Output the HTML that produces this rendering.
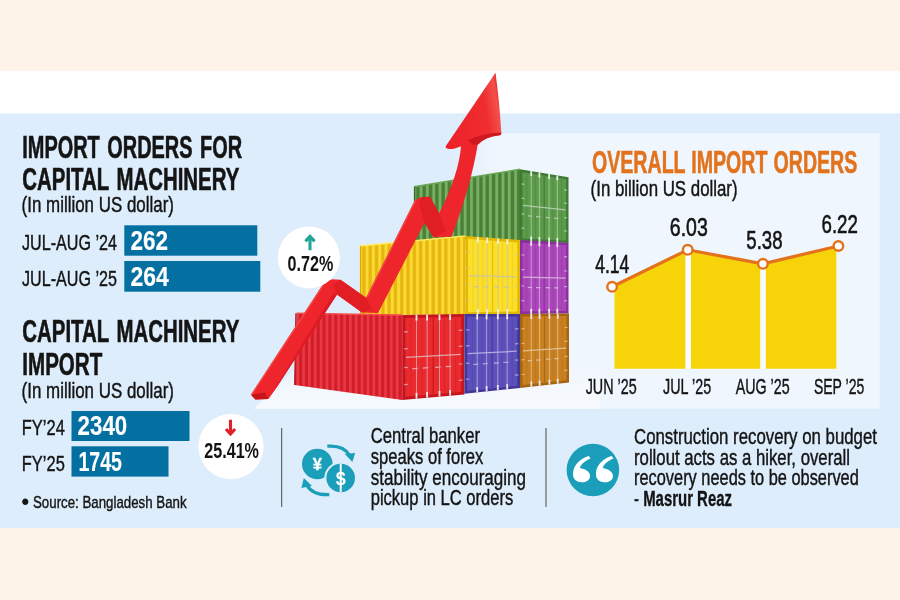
<!DOCTYPE html>
<html lang="en"><head><meta charset="utf-8"><title>Import orders</title>
<style>html,body{margin:0;padding:0;background:#fef3e8;}svg{display:block}</style></head>
<body><svg width="900" height="600" viewBox="0 0 900 600" font-family="Liberation Sans, sans-serif">
<rect x="0" y="0" width="900" height="600" fill="#fef3e8"/>
<rect x="0" y="71" width="900" height="43" fill="#ffffff"/>
<rect x="0" y="113.4" width="900" height="414.6" fill="#deedfb"/>
<defs><linearGradient id="fadeL" gradientUnits="userSpaceOnUse" x1="445" y1="0" x2="500" y2="0"><stop offset="0" stop-color="#f0f6fd" stop-opacity="0"/><stop offset="1" stop-color="#f0f6fd" stop-opacity="1"/></linearGradient><linearGradient id="floorV" gradientUnits="userSpaceOnUse" x1="0" y1="364" x2="0" y2="409"><stop offset="0" stop-color="#f5f9fe" stop-opacity="0"/><stop offset="0.55" stop-color="#f5f9fe" stop-opacity="0.9"/><stop offset="1" stop-color="#f6fafe" stop-opacity="1"/></linearGradient></defs>
<rect x="445" y="133.3" width="434.7" height="275.4" fill="url(#fadeL)"/>
<polygon points="254,408.7 600,408.7 600,364 300,364" fill="url(#floorV)"/>
<defs>
<linearGradient id="gS" gradientUnits="userSpaceOnUse" x1="414" y1="0" x2="420.3" y2="0" spreadMethod="repeat"><stop offset="0" stop-color="#78b065"/><stop offset="0.25" stop-color="#78b065"/><stop offset="0.45" stop-color="#4a7f36"/><stop offset="0.8" stop-color="#4a7f36"/><stop offset="1" stop-color="#78b065"/></linearGradient>
<linearGradient id="yS" gradientUnits="userSpaceOnUse" x1="360" y1="0" x2="366.3" y2="0" spreadMethod="repeat"><stop offset="0" stop-color="#fdd936"/><stop offset="0.25" stop-color="#fdd936"/><stop offset="0.45" stop-color="#e6b80f"/><stop offset="0.8" stop-color="#e6b80f"/><stop offset="1" stop-color="#fdd936"/></linearGradient>
<linearGradient id="rS" gradientUnits="userSpaceOnUse" x1="297" y1="0" x2="302.85" y2="0" spreadMethod="repeat"><stop offset="0" stop-color="#e93a44"/><stop offset="0.25" stop-color="#e93a44"/><stop offset="0.45" stop-color="#d21d2a"/><stop offset="0.8" stop-color="#d21d2a"/><stop offset="1" stop-color="#e93a44"/></linearGradient>
<linearGradient id="ah" gradientUnits="userSpaceOnUse" x1="450" y1="120" x2="502" y2="112"><stop offset="0" stop-color="#ee2329"/><stop offset="0.7" stop-color="#ef2d30"/><stop offset="0.93" stop-color="#f4504a"/><stop offset="1" stop-color="#e52228"/></linearGradient>
</defs>
<polygon points="414.0,186.7 520.0,169.3 520.0,241.0 414.0,241.0" fill="url(#gS)"/>
<path d="M414.0 186.7 L520.0 169.3" stroke="#6aa856" stroke-width="1.6" opacity="1"/>
<path d="M414.6 186.7 L414.6 241.0" stroke="#33682a" stroke-width="1.4" opacity="1"/>
<polygon points="520.0,169.3 568.5,177.3 568.5,243.0 520.0,241.0" fill="#3f7a35"/>
<polygon points="522.4,172.2 566.1,179.2 566.1,240.6 522.4,238.6" fill="#5b9b49"/>
<path d="M526.8 174.0 L526.8 237.7" stroke="#3f7a35" stroke-width="1.0" opacity="0.35"/>
<path d="M535.5 175.3 L535.5 238.2" stroke="#3f7a35" stroke-width="1.0" opacity="0.35"/>
<path d="M544.2 176.7 L544.2 238.6" stroke="#3f7a35" stroke-width="1.0" opacity="0.35"/>
<path d="M553.0 178.1 L553.0 239.0" stroke="#3f7a35" stroke-width="1.0" opacity="0.35"/>
<path d="M561.7 179.5 L561.7 239.4" stroke="#3f7a35" stroke-width="1.0" opacity="0.35"/>
<path d="M544.2 176.0 L544.2 239.3" stroke="#3f7a35" stroke-width="1.1" opacity="0.8"/>
<path d="M531.2 173.2 L531.2 239.4" stroke="#b9cfb4" stroke-width="1.0" opacity="0.75"/>
<path d="M531.2 171.1 L531.2 176.1" stroke="#f2f2f2" stroke-width="1.8" opacity="0.95"/>
<path d="M531.2 236.5 L531.2 241.5" stroke="#f2f2f2" stroke-width="1.8" opacity="0.95"/>
<path d="M527.8 215.9 L532.1 216.2" stroke="#b9cfb4" stroke-width="1.2" opacity="0.9"/>
<path d="M539.4 174.6 L539.4 239.7" stroke="#b9cfb4" stroke-width="1.0" opacity="0.75"/>
<path d="M539.4 172.5 L539.4 177.4" stroke="#f2f2f2" stroke-width="1.8" opacity="0.95"/>
<path d="M539.4 236.9 L539.4 241.8" stroke="#f2f2f2" stroke-width="1.8" opacity="0.95"/>
<path d="M536.0 216.6 L540.4 216.9" stroke="#b9cfb4" stroke-width="1.2" opacity="0.9"/>
<path d="M549.1 176.1 L549.1 240.2" stroke="#b9cfb4" stroke-width="1.0" opacity="0.75"/>
<path d="M549.1 174.1 L549.1 178.9" stroke="#f2f2f2" stroke-width="1.8" opacity="0.95"/>
<path d="M549.1 237.4 L549.1 242.2" stroke="#f2f2f2" stroke-width="1.8" opacity="0.95"/>
<path d="M545.7 217.4 L550.1 217.8" stroke="#b9cfb4" stroke-width="1.2" opacity="0.9"/>
<path d="M557.3 177.5 L557.3 240.5" stroke="#b9cfb4" stroke-width="1.0" opacity="0.75"/>
<path d="M557.3 175.5 L557.3 180.2" stroke="#f2f2f2" stroke-width="1.8" opacity="0.95"/>
<path d="M557.3 237.8 L557.3 242.5" stroke="#f2f2f2" stroke-width="1.8" opacity="0.95"/>
<path d="M554.0 218.1 L558.3 218.5" stroke="#b9cfb4" stroke-width="1.2" opacity="0.9"/>
<path d="M522.9 205.4 L565.6 209.9" stroke="#b9cfb4" stroke-width="1.3" opacity="0.9"/>
<path d="M521.5 183.8 L524.4 184.3" stroke="#b9cfb4" stroke-width="1.2" opacity="0.8"/>
<path d="M564.1 189.8 L567.0 190.2" stroke="#b9cfb4" stroke-width="1.2" opacity="0.8"/>
<path d="M521.5 198.1 L524.4 198.5" stroke="#b9cfb4" stroke-width="1.2" opacity="0.8"/>
<path d="M564.1 203.1 L567.0 203.4" stroke="#b9cfb4" stroke-width="1.2" opacity="0.8"/>
<path d="M521.5 213.9 L524.4 214.1" stroke="#b9cfb4" stroke-width="1.2" opacity="0.8"/>
<path d="M564.1 217.6 L567.0 217.9" stroke="#b9cfb4" stroke-width="1.2" opacity="0.8"/>
<path d="M521.5 228.2 L524.4 228.4" stroke="#b9cfb4" stroke-width="1.2" opacity="0.8"/>
<path d="M564.1 230.9 L567.0 231.1" stroke="#b9cfb4" stroke-width="1.2" opacity="0.8"/>
<polygon points="360.0,246.0 465.3,236.0 465.3,315.0 360.0,314.5" fill="url(#yS)"/>
<path d="M360.0 246.0 L465.3 236.0" stroke="#ffe95c" stroke-width="1.6" opacity="1"/>
<path d="M360.6 246.0 L360.6 314.5" stroke="#d9ad00" stroke-width="1.4" opacity="1"/>
<polygon points="465.3,236.0 520.0,240.0 520.0,314.0 465.3,315.0" fill="#e3b800"/>
<polygon points="468.0,239.0 517.3,242.4 517.3,311.5 468.0,312.2" fill="#fbdf2a"/>
<path d="M473.0 240.5 L473.0 310.9" stroke="#e3b800" stroke-width="1.0" opacity="0.35"/>
<path d="M482.8 241.2 L482.8 310.8" stroke="#e3b800" stroke-width="1.0" opacity="0.35"/>
<path d="M492.6 241.8 L492.6 310.7" stroke="#e3b800" stroke-width="1.0" opacity="0.35"/>
<path d="M502.5 242.5 L502.5 310.5" stroke="#e3b800" stroke-width="1.0" opacity="0.35"/>
<path d="M512.3 243.2 L512.3 310.4" stroke="#e3b800" stroke-width="1.0" opacity="0.35"/>
<path d="M492.6 241.1 L492.6 311.4" stroke="#e3b800" stroke-width="1.1" opacity="0.8"/>
<path d="M477.9 239.3 L477.9 312.4" stroke="#c9c4a2" stroke-width="1.0" opacity="0.75"/>
<path d="M477.9 236.9 L477.9 242.4" stroke="#f2f2f2" stroke-width="1.8" opacity="0.95"/>
<path d="M477.9 309.3 L477.9 314.8" stroke="#f2f2f2" stroke-width="1.8" opacity="0.95"/>
<path d="M474.1 286.7 L479.0 286.8" stroke="#c9c4a2" stroke-width="1.2" opacity="0.9"/>
<path d="M487.2 239.9 L487.2 312.3" stroke="#c9c4a2" stroke-width="1.0" opacity="0.75"/>
<path d="M487.2 237.6 L487.2 243.0" stroke="#f2f2f2" stroke-width="1.8" opacity="0.95"/>
<path d="M487.2 309.2 L487.2 314.6" stroke="#f2f2f2" stroke-width="1.8" opacity="0.95"/>
<path d="M483.4 286.8 L488.3 286.9" stroke="#c9c4a2" stroke-width="1.2" opacity="0.9"/>
<path d="M498.1 240.7 L498.1 312.1" stroke="#c9c4a2" stroke-width="1.0" opacity="0.75"/>
<path d="M498.1 238.4 L498.1 243.7" stroke="#f2f2f2" stroke-width="1.8" opacity="0.95"/>
<path d="M498.1 309.1 L498.1 314.4" stroke="#f2f2f2" stroke-width="1.8" opacity="0.95"/>
<path d="M494.3 287.0 L499.2 287.1" stroke="#c9c4a2" stroke-width="1.2" opacity="0.9"/>
<path d="M507.4 241.3 L507.4 312.0" stroke="#c9c4a2" stroke-width="1.0" opacity="0.75"/>
<path d="M507.4 239.1 L507.4 244.3" stroke="#f2f2f2" stroke-width="1.8" opacity="0.95"/>
<path d="M507.4 309.0 L507.4 314.2" stroke="#f2f2f2" stroke-width="1.8" opacity="0.95"/>
<path d="M503.6 287.1 L508.5 287.2" stroke="#c9c4a2" stroke-width="1.2" opacity="0.9"/>
<path d="M468.6 275.6 L516.7 276.9" stroke="#c9c4a2" stroke-width="1.3" opacity="0.9"/>
<path d="M466.9 251.9 L470.2 252.1" stroke="#c9c4a2" stroke-width="1.2" opacity="0.8"/>
<path d="M515.1 254.5 L518.4 254.7" stroke="#c9c4a2" stroke-width="1.2" opacity="0.8"/>
<path d="M466.9 267.7 L470.2 267.8" stroke="#c9c4a2" stroke-width="1.2" opacity="0.8"/>
<path d="M515.1 269.4 L518.4 269.5" stroke="#c9c4a2" stroke-width="1.2" opacity="0.8"/>
<path d="M466.9 285.0 L470.2 285.1" stroke="#c9c4a2" stroke-width="1.2" opacity="0.8"/>
<path d="M515.1 285.8 L518.4 285.9" stroke="#c9c4a2" stroke-width="1.2" opacity="0.8"/>
<path d="M466.9 300.8 L470.2 300.8" stroke="#c9c4a2" stroke-width="1.2" opacity="0.8"/>
<path d="M515.1 300.7 L518.4 300.7" stroke="#c9c4a2" stroke-width="1.2" opacity="0.8"/>
<polygon points="520.0,240.0 568.5,242.7 568.5,313.6 520.0,314.0" fill="#8a2f9b"/>
<polygon points="522.4,242.7 566.1,245.1 566.1,311.1 522.4,311.4" fill="#aa46b9"/>
<path d="M526.8 244.1 L526.8 310.3" stroke="#8a2f9b" stroke-width="1.0" opacity="0.35"/>
<path d="M535.5 244.5 L535.5 310.2" stroke="#8a2f9b" stroke-width="1.0" opacity="0.35"/>
<path d="M544.2 245.0 L544.2 310.2" stroke="#8a2f9b" stroke-width="1.0" opacity="0.35"/>
<path d="M553.0 245.4 L553.0 310.1" stroke="#8a2f9b" stroke-width="1.0" opacity="0.35"/>
<path d="M561.7 245.9 L561.7 310.1" stroke="#8a2f9b" stroke-width="1.0" opacity="0.35"/>
<path d="M544.2 244.2 L544.2 310.9" stroke="#8a2f9b" stroke-width="1.1" opacity="0.8"/>
<path d="M531.2 242.8 L531.2 311.7" stroke="#d5b9dc" stroke-width="1.0" opacity="0.75"/>
<path d="M531.2 240.6 L531.2 245.8" stroke="#f2f2f2" stroke-width="1.8" opacity="0.95"/>
<path d="M531.2 308.8 L531.2 313.9" stroke="#f2f2f2" stroke-width="1.8" opacity="0.95"/>
<path d="M527.8 287.5 L532.1 287.5" stroke="#d5b9dc" stroke-width="1.2" opacity="0.9"/>
<path d="M539.4 243.3 L539.4 311.7" stroke="#d5b9dc" stroke-width="1.0" opacity="0.75"/>
<path d="M539.4 241.1 L539.4 246.2" stroke="#f2f2f2" stroke-width="1.8" opacity="0.95"/>
<path d="M539.4 308.7 L539.4 313.8" stroke="#f2f2f2" stroke-width="1.8" opacity="0.95"/>
<path d="M536.0 287.6 L540.4 287.7" stroke="#d5b9dc" stroke-width="1.2" opacity="0.9"/>
<path d="M549.1 243.8 L549.1 311.6" stroke="#d5b9dc" stroke-width="1.0" opacity="0.75"/>
<path d="M549.1 241.6 L549.1 246.7" stroke="#f2f2f2" stroke-width="1.8" opacity="0.95"/>
<path d="M549.1 308.7 L549.1 313.8" stroke="#f2f2f2" stroke-width="1.8" opacity="0.95"/>
<path d="M545.7 287.7 L550.1 287.8" stroke="#d5b9dc" stroke-width="1.2" opacity="0.9"/>
<path d="M557.3 244.2 L557.3 311.5" stroke="#d5b9dc" stroke-width="1.0" opacity="0.75"/>
<path d="M557.3 242.1 L557.3 247.1" stroke="#f2f2f2" stroke-width="1.8" opacity="0.95"/>
<path d="M557.3 308.7 L557.3 313.7" stroke="#f2f2f2" stroke-width="1.8" opacity="0.95"/>
<path d="M554.0 287.9 L558.3 287.9" stroke="#d5b9dc" stroke-width="1.2" opacity="0.9"/>
<path d="M522.9 277.1 L565.6 278.1" stroke="#d5b9dc" stroke-width="1.3" opacity="0.9"/>
<path d="M521.5 254.9 L524.4 255.0" stroke="#d5b9dc" stroke-width="1.2" opacity="0.8"/>
<path d="M564.1 256.7 L567.0 256.8" stroke="#d5b9dc" stroke-width="1.2" opacity="0.8"/>
<path d="M521.5 269.6 L524.4 269.7" stroke="#d5b9dc" stroke-width="1.2" opacity="0.8"/>
<path d="M564.1 270.9 L567.0 271.0" stroke="#d5b9dc" stroke-width="1.2" opacity="0.8"/>
<path d="M521.5 285.9 L524.4 286.0" stroke="#d5b9dc" stroke-width="1.2" opacity="0.8"/>
<path d="M564.1 286.6 L567.0 286.6" stroke="#d5b9dc" stroke-width="1.2" opacity="0.8"/>
<path d="M521.5 300.7 L524.4 300.7" stroke="#d5b9dc" stroke-width="1.2" opacity="0.8"/>
<path d="M564.1 300.8 L567.0 300.8" stroke="#d5b9dc" stroke-width="1.2" opacity="0.8"/>
<polygon points="296.7,313.3 402.2,315.0 402.2,400.0 294.5,385.0" fill="url(#rS)"/>
<path d="M296.7 313.3 L402.2 315.0" stroke="#f5514a" stroke-width="1.6" opacity="1"/>
<path d="M296.0 313.3 L294.8 385.0" stroke="#b8161b" stroke-width="1.4" opacity="1"/>
<polygon points="402.2,315.0 464.4,314.0 464.4,394.4 402.2,400.0" fill="#c4161c"/>
<polygon points="405.3,317.9 461.3,316.9 461.3,391.9 405.3,396.8" fill="#e92a2e"/>
<path d="M410.9 319.1 L410.9 395.0" stroke="#c4161c" stroke-width="1.0" opacity="0.35"/>
<path d="M422.1 318.9 L422.1 394.0" stroke="#c4161c" stroke-width="1.0" opacity="0.35"/>
<path d="M433.3 318.6 L433.3 393.1" stroke="#c4161c" stroke-width="1.0" opacity="0.35"/>
<path d="M444.5 318.4 L444.5 392.1" stroke="#c4161c" stroke-width="1.0" opacity="0.35"/>
<path d="M455.7 318.2 L455.7 391.1" stroke="#c4161c" stroke-width="1.0" opacity="0.35"/>
<path d="M433.3 317.8 L433.3 393.9" stroke="#c4161c" stroke-width="1.1" opacity="0.8"/>
<path d="M416.5 317.3 L416.5 396.2" stroke="#e2b4b4" stroke-width="1.0" opacity="0.75"/>
<path d="M416.5 314.8 L416.5 320.6" stroke="#f2f2f2" stroke-width="1.8" opacity="0.95"/>
<path d="M416.5 392.8 L416.5 398.7" stroke="#f2f2f2" stroke-width="1.8" opacity="0.95"/>
<path d="M412.2 368.8 L417.8 368.4" stroke="#e2b4b4" stroke-width="1.2" opacity="0.9"/>
<path d="M427.1 317.1 L427.1 395.3" stroke="#e2b4b4" stroke-width="1.0" opacity="0.75"/>
<path d="M427.1 314.6 L427.1 320.4" stroke="#f2f2f2" stroke-width="1.8" opacity="0.95"/>
<path d="M427.1 391.9 L427.1 397.8" stroke="#f2f2f2" stroke-width="1.8" opacity="0.95"/>
<path d="M422.7 368.1 L428.3 367.7" stroke="#e2b4b4" stroke-width="1.2" opacity="0.9"/>
<path d="M439.5 316.9 L439.5 394.2" stroke="#e2b4b4" stroke-width="1.0" opacity="0.75"/>
<path d="M439.5 314.4 L439.5 320.2" stroke="#f2f2f2" stroke-width="1.8" opacity="0.95"/>
<path d="M439.5 390.9 L439.5 396.6" stroke="#f2f2f2" stroke-width="1.8" opacity="0.95"/>
<path d="M435.2 367.3 L440.8 367.0" stroke="#e2b4b4" stroke-width="1.2" opacity="0.9"/>
<path d="M450.1 316.7 L450.1 393.2" stroke="#e2b4b4" stroke-width="1.0" opacity="0.75"/>
<path d="M450.1 314.2 L450.1 319.9" stroke="#f2f2f2" stroke-width="1.8" opacity="0.95"/>
<path d="M450.1 390.0 L450.1 395.7" stroke="#f2f2f2" stroke-width="1.8" opacity="0.95"/>
<path d="M445.7 366.6 L451.3 366.3" stroke="#e2b4b4" stroke-width="1.2" opacity="0.9"/>
<path d="M405.9 357.3 L460.7 354.4" stroke="#e2b4b4" stroke-width="1.3" opacity="0.9"/>
<path d="M404.1 331.9 L407.8 331.8" stroke="#e2b4b4" stroke-width="1.2" opacity="0.8"/>
<path d="M458.8 330.3 L462.5 330.1" stroke="#e2b4b4" stroke-width="1.2" opacity="0.8"/>
<path d="M404.1 348.9 L407.8 348.7" stroke="#e2b4b4" stroke-width="1.2" opacity="0.8"/>
<path d="M458.8 346.4 L462.5 346.2" stroke="#e2b4b4" stroke-width="1.2" opacity="0.8"/>
<path d="M404.1 367.6 L407.8 367.4" stroke="#e2b4b4" stroke-width="1.2" opacity="0.8"/>
<path d="M458.8 364.2 L462.5 364.0" stroke="#e2b4b4" stroke-width="1.2" opacity="0.8"/>
<path d="M404.1 384.6 L407.8 384.3" stroke="#e2b4b4" stroke-width="1.2" opacity="0.8"/>
<path d="M458.8 380.4 L462.5 380.1" stroke="#e2b4b4" stroke-width="1.2" opacity="0.8"/>
<polygon points="464.4,314.0 520.0,314.0 520.0,388.0 464.4,393.8" fill="#43389a"/>
<polygon points="467.2,316.8 517.2,316.6 517.2,385.7 467.2,390.7" fill="#5d50ba"/>
<path d="M472.2 317.9 L472.2 389.0" stroke="#43389a" stroke-width="1.0" opacity="0.35"/>
<path d="M482.2 317.9 L482.2 388.0" stroke="#43389a" stroke-width="1.0" opacity="0.35"/>
<path d="M492.2 317.8 L492.2 387.1" stroke="#43389a" stroke-width="1.0" opacity="0.35"/>
<path d="M502.2 317.8 L502.2 386.1" stroke="#43389a" stroke-width="1.0" opacity="0.35"/>
<path d="M512.2 317.7 L512.2 385.1" stroke="#43389a" stroke-width="1.0" opacity="0.35"/>
<path d="M492.2 317.1 L492.2 387.8" stroke="#43389a" stroke-width="1.1" opacity="0.8"/>
<path d="M477.2 316.4 L477.2 390.1" stroke="#bcb6e2" stroke-width="1.0" opacity="0.75"/>
<path d="M477.2 314.0 L477.2 319.5" stroke="#f2f2f2" stroke-width="1.8" opacity="0.95"/>
<path d="M477.2 387.0 L477.2 392.5" stroke="#f2f2f2" stroke-width="1.8" opacity="0.95"/>
<path d="M473.3 364.5 L478.3 364.1" stroke="#bcb6e2" stroke-width="1.2" opacity="0.9"/>
<path d="M486.6 316.3 L486.6 389.2" stroke="#bcb6e2" stroke-width="1.0" opacity="0.75"/>
<path d="M486.6 314.0 L486.6 319.4" stroke="#f2f2f2" stroke-width="1.8" opacity="0.95"/>
<path d="M486.6 386.1 L486.6 391.5" stroke="#f2f2f2" stroke-width="1.8" opacity="0.95"/>
<path d="M482.7 363.8 L487.8 363.5" stroke="#bcb6e2" stroke-width="1.2" opacity="0.9"/>
<path d="M497.8 316.3 L497.8 388.0" stroke="#bcb6e2" stroke-width="1.0" opacity="0.75"/>
<path d="M497.8 314.0 L497.8 319.3" stroke="#f2f2f2" stroke-width="1.8" opacity="0.95"/>
<path d="M497.8 385.0 L497.8 390.3" stroke="#f2f2f2" stroke-width="1.8" opacity="0.95"/>
<path d="M493.9 363.1 L498.9 362.8" stroke="#bcb6e2" stroke-width="1.2" opacity="0.9"/>
<path d="M507.2 316.3 L507.2 387.1" stroke="#bcb6e2" stroke-width="1.0" opacity="0.75"/>
<path d="M507.2 314.0 L507.2 319.3" stroke="#f2f2f2" stroke-width="1.8" opacity="0.95"/>
<path d="M507.2 384.1 L507.2 389.3" stroke="#f2f2f2" stroke-width="1.8" opacity="0.95"/>
<path d="M503.3 362.5 L508.3 362.1" stroke="#bcb6e2" stroke-width="1.2" opacity="0.9"/>
<path d="M467.7 353.7 L516.7 351.2" stroke="#bcb6e2" stroke-width="1.3" opacity="0.9"/>
<path d="M466.1 329.9 L469.4 329.9" stroke="#bcb6e2" stroke-width="1.2" opacity="0.8"/>
<path d="M515.0 328.9 L518.3 328.8" stroke="#bcb6e2" stroke-width="1.2" opacity="0.8"/>
<path d="M466.1 345.9 L469.4 345.7" stroke="#bcb6e2" stroke-width="1.2" opacity="0.8"/>
<path d="M515.0 343.8 L518.3 343.7" stroke="#bcb6e2" stroke-width="1.2" opacity="0.8"/>
<path d="M466.1 363.4 L469.4 363.2" stroke="#bcb6e2" stroke-width="1.2" opacity="0.8"/>
<path d="M515.0 360.2 L518.3 360.0" stroke="#bcb6e2" stroke-width="1.2" opacity="0.8"/>
<path d="M466.1 379.3 L469.4 379.0" stroke="#bcb6e2" stroke-width="1.2" opacity="0.8"/>
<path d="M515.0 375.1 L518.3 374.8" stroke="#bcb6e2" stroke-width="1.2" opacity="0.8"/>
<polygon points="520.0,314.0 569.0,313.6 569.0,382.4 520.0,388.0" fill="#a5640f"/>
<polygon points="522.5,316.6 566.5,316.0 566.5,380.3 522.5,385.1" fill="#c98020"/>
<path d="M526.9 317.6 L526.9 383.6" stroke="#a5640f" stroke-width="1.0" opacity="0.35"/>
<path d="M535.7 317.5 L535.7 382.6" stroke="#a5640f" stroke-width="1.0" opacity="0.35"/>
<path d="M544.5 317.4 L544.5 381.6" stroke="#a5640f" stroke-width="1.0" opacity="0.35"/>
<path d="M553.3 317.3 L553.3 380.7" stroke="#a5640f" stroke-width="1.0" opacity="0.35"/>
<path d="M562.1 317.1 L562.1 379.7" stroke="#a5640f" stroke-width="1.0" opacity="0.35"/>
<path d="M544.5 316.7 L544.5 382.3" stroke="#a5640f" stroke-width="1.1" opacity="0.8"/>
<path d="M531.3 316.1 L531.3 384.5" stroke="#e2c8a2" stroke-width="1.0" opacity="0.75"/>
<path d="M531.3 313.9 L531.3 319.0" stroke="#f2f2f2" stroke-width="1.8" opacity="0.95"/>
<path d="M531.3 381.6 L531.3 386.7" stroke="#f2f2f2" stroke-width="1.8" opacity="0.95"/>
<path d="M527.8 360.8 L532.2 360.4" stroke="#e2c8a2" stroke-width="1.2" opacity="0.9"/>
<path d="M539.6 316.0 L539.6 383.6" stroke="#e2c8a2" stroke-width="1.0" opacity="0.75"/>
<path d="M539.6 313.8 L539.6 318.9" stroke="#f2f2f2" stroke-width="1.8" opacity="0.95"/>
<path d="M539.6 380.7 L539.6 385.8" stroke="#f2f2f2" stroke-width="1.8" opacity="0.95"/>
<path d="M536.2 360.1 L540.6 359.8" stroke="#e2c8a2" stroke-width="1.2" opacity="0.9"/>
<path d="M549.4 315.9 L549.4 382.5" stroke="#e2c8a2" stroke-width="1.0" opacity="0.75"/>
<path d="M549.4 313.8 L549.4 318.7" stroke="#f2f2f2" stroke-width="1.8" opacity="0.95"/>
<path d="M549.4 379.7 L549.4 384.6" stroke="#f2f2f2" stroke-width="1.8" opacity="0.95"/>
<path d="M546.0 359.4 L550.4 359.0" stroke="#e2c8a2" stroke-width="1.2" opacity="0.9"/>
<path d="M557.7 315.8 L557.7 381.6" stroke="#e2c8a2" stroke-width="1.0" opacity="0.75"/>
<path d="M557.7 313.7 L557.7 318.6" stroke="#f2f2f2" stroke-width="1.8" opacity="0.95"/>
<path d="M557.7 378.8 L557.7 383.7" stroke="#f2f2f2" stroke-width="1.8" opacity="0.95"/>
<path d="M554.3 358.8 L558.7 358.4" stroke="#e2c8a2" stroke-width="1.2" opacity="0.9"/>
<path d="M522.9 350.8 L566.1 348.2" stroke="#e2c8a2" stroke-width="1.3" opacity="0.9"/>
<path d="M521.5 328.8 L524.4 328.7" stroke="#e2c8a2" stroke-width="1.2" opacity="0.8"/>
<path d="M564.6 327.5 L567.5 327.4" stroke="#e2c8a2" stroke-width="1.2" opacity="0.8"/>
<path d="M521.5 343.5 L524.4 343.4" stroke="#e2c8a2" stroke-width="1.2" opacity="0.8"/>
<path d="M564.6 341.3 L567.5 341.2" stroke="#e2c8a2" stroke-width="1.2" opacity="0.8"/>
<path d="M521.5 359.8 L524.4 359.6" stroke="#e2c8a2" stroke-width="1.2" opacity="0.8"/>
<path d="M564.6 356.6 L567.5 356.4" stroke="#e2c8a2" stroke-width="1.2" opacity="0.8"/>
<path d="M521.5 374.5 L524.4 374.3" stroke="#e2c8a2" stroke-width="1.2" opacity="0.8"/>
<path d="M564.6 370.4 L567.5 370.2" stroke="#e2c8a2" stroke-width="1.2" opacity="0.8"/>
<path d="M251 394.7 L322.5 285 L327 281.2 L332.2 279.3 L340.3 279.8 L343 281.5 L366 297.8 L415 200 L421 197.3 L430 196.8 L439 213.5 Q459 174 461 146 L478 143 Q471 186 451.5 236.7 L433.5 237.3 L424.5 222.8 L378 313 L362 312.5 L337 294.6 L277.5 386 L268.3 399 L255.3 399.4 Z" fill="#ee252b"/>
<polygon points="268.3,399.0 277.5,386.0 337.0,294.6 333.5,293.2" fill="#de1b24"/>
<polygon points="340.3,279.8 343.0,281.5 366.0,297.8 372.5,309.5 362.0,312.5 337.0,294.6 333.0,284.5" fill="#e21e25"/>
<polygon points="421.0,197.3 430.0,196.8 439.0,213.5 446.0,231.0 433.5,237.3 424.5,222.8 419.0,204.0" fill="#e21e25"/>
<path d="M252.0 394.0 L323.0 285.3" stroke="#f5534f" stroke-width="1.4" opacity="0.8"/>
<path d="M366.8 297.5 L415.5 200.5" stroke="#f5534f" stroke-width="1.4" opacity="0.8"/>
<polygon points="251.0,394.7 265.0,392.6 268.3,399.0 255.3,399.4" fill="#c9141c"/>
<path d="M445.7 146.2 L495.5 72.8 Q499.2 100 501.3 132.5 Q501.8 135.5 498 135.6 Q486 136.5 478 144.5 L461 146.2 Q452 150 447.5 148.8 Q445 148 445.7 146.2 Z" fill="url(#ah)"/>
<path d="M468 140 Q485 132.8 501.3 132.5 Q501.8 135.5 498 135.6 Q486 136.5 478 144.5 L472 144.8 Z" fill="#cf1820"/>
<text x="22.3" y="157.6" font-size="30.6" font-weight="bold" fill="#141414" stroke="#141414" stroke-width="0.6" text-anchor="start" textLength="219.8" lengthAdjust="spacingAndGlyphs" word-spacing="3">IMPORT ORDERS FOR</text>
<text x="22.3" y="189.7" font-size="30.6" font-weight="bold" fill="#141414" stroke="#141414" stroke-width="0.6" text-anchor="start" textLength="217" lengthAdjust="spacingAndGlyphs" word-spacing="3">CAPITAL MACHINERY</text>
<text x="21.6" y="212.4" font-size="21.2" font-weight="normal" fill="#141414" stroke="#141414" stroke-width="0.42" text-anchor="start" textLength="152.4" lengthAdjust="spacingAndGlyphs">(In million US dollar)</text>
<text x="22" y="250.3" font-size="22.4" font-weight="normal" fill="#141414" stroke="#141414" stroke-width="0.42" text-anchor="start" textLength="95" lengthAdjust="spacingAndGlyphs">JUL-AUG ’24</text>
<text x="22" y="286" font-size="22.4" font-weight="normal" fill="#141414" stroke="#141414" stroke-width="0.42" text-anchor="start" textLength="95" lengthAdjust="spacingAndGlyphs">JUL-AUG ’25</text>
<rect x="124.3" y="225.3" width="133" height="30.4" fill="#0470a2"/>
<rect x="124.3" y="261" width="136" height="30.7" fill="#0470a2"/>
<text x="130.4" y="250.3" font-size="27.0" font-weight="bold" fill="#fff" stroke="#fff" stroke-width="0.12" text-anchor="start" textLength="37.6" lengthAdjust="spacingAndGlyphs">262</text>
<text x="130.4" y="286" font-size="27.0" font-weight="bold" fill="#fff" stroke="#fff" stroke-width="0.12" text-anchor="start" textLength="38.4" lengthAdjust="spacingAndGlyphs">264</text>
<text x="22.3" y="342.3" font-size="30.6" font-weight="bold" fill="#141414" stroke="#141414" stroke-width="0.6" text-anchor="start" textLength="217" lengthAdjust="spacingAndGlyphs" word-spacing="3">CAPITAL MACHINERY</text>
<text x="22.3" y="375.2" font-size="30.6" font-weight="bold" fill="#141414" stroke="#141414" stroke-width="0.6" text-anchor="start" textLength="80" lengthAdjust="spacingAndGlyphs">IMPORT</text>
<text x="21.6" y="397.7" font-size="21.2" font-weight="normal" fill="#141414" stroke="#141414" stroke-width="0.42" text-anchor="start" textLength="152.4" lengthAdjust="spacingAndGlyphs">(In million US dollar)</text>
<text x="21.8" y="435.4" font-size="22.4" font-weight="normal" fill="#141414" stroke="#141414" stroke-width="0.42" text-anchor="start" textLength="43" lengthAdjust="spacingAndGlyphs">FY’24</text>
<text x="21.8" y="471" font-size="22.4" font-weight="normal" fill="#141414" stroke="#141414" stroke-width="0.42" text-anchor="start" textLength="43" lengthAdjust="spacingAndGlyphs">FY’25</text>
<rect x="71.5" y="411" width="118" height="30" fill="#0470a2"/>
<rect x="71.5" y="446.3" width="97" height="30.3" fill="#0470a2"/>
<text x="77.6" y="435.4" font-size="27.0" font-weight="bold" fill="#fff" stroke="#fff" stroke-width="0.12" text-anchor="start" textLength="49.6" lengthAdjust="spacingAndGlyphs">2340</text>
<text x="78.4" y="471" font-size="27.0" font-weight="bold" fill="#fff" stroke="#fff" stroke-width="0.12" text-anchor="start" textLength="43.6" lengthAdjust="spacingAndGlyphs">1745</text>
<text x="21.3" y="509.8" font-size="23" font-weight="normal" fill="#141414" text-anchor="start">•</text>
<text x="33" y="508.2" font-size="16.8" font-weight="normal" fill="#141414" stroke="#141414" stroke-width="0.4" text-anchor="start" textLength="153.6" lengthAdjust="spacingAndGlyphs">Source: Bangladesh Bank</text>
<circle cx="308.9" cy="257.4" r="31" fill="#fff"/>
<circle cx="231" cy="446.6" r="32.6" fill="#fff"/>
<text x="287.5" y="270.8" font-size="21.6" font-weight="bold" fill="#141414" text-anchor="start" textLength="45.8" lengthAdjust="spacingAndGlyphs">0.72%</text>
<text x="204.2" y="457.8" font-size="21.8" font-weight="bold" fill="#141414" text-anchor="start" textLength="54.8" lengthAdjust="spacingAndGlyphs">25.41%</text>
<path d="M310 250.3 V238 M305.4 241.4 L310 236.4 L314.6 241.4" stroke="#22a699" stroke-width="3.1" fill="none" stroke-linejoin="miter"/>
<path d="M230.5 419.7 V432 M225.9 429 L230.5 434 L235.1 429" stroke="#e0202a" stroke-width="3.1" fill="none" stroke-linejoin="miter"/>
<path d="M281.7 428 V507 M546 428 V507" stroke="#4a4a4a" stroke-width="1"/>
<text x="370.7" y="443.2" font-size="21.8" font-weight="normal" fill="#141414" stroke="#141414" stroke-width="0.42" text-anchor="start" textLength="109.3" lengthAdjust="spacingAndGlyphs">Central banker</text>
<text x="370.7" y="463.9" font-size="21.8" font-weight="normal" fill="#141414" stroke="#141414" stroke-width="0.42" text-anchor="start" textLength="112.6" lengthAdjust="spacingAndGlyphs">speaks of forex</text>
<text x="370.7" y="484.6" font-size="21.8" font-weight="normal" fill="#141414" stroke="#141414" stroke-width="0.42" text-anchor="start" textLength="155.3" lengthAdjust="spacingAndGlyphs">stability encouraging</text>
<text x="370.7" y="505.3" font-size="21.8" font-weight="normal" fill="#141414" stroke="#141414" stroke-width="0.42" text-anchor="start" textLength="142.6" lengthAdjust="spacingAndGlyphs">pickup in LC orders</text>
<text x="634" y="443.6" font-size="21.8" font-weight="normal" fill="#141414" stroke="#141414" stroke-width="0.42" text-anchor="start" textLength="243" lengthAdjust="spacingAndGlyphs">Construction recovery on budget</text>
<text x="634" y="464.5" font-size="21.8" font-weight="normal" fill="#141414" stroke="#141414" stroke-width="0.42" text-anchor="start" textLength="216" lengthAdjust="spacingAndGlyphs">rollout acts as a hiker, overall</text>
<text x="634" y="485.4" font-size="21.8" font-weight="normal" fill="#141414" stroke="#141414" stroke-width="0.42" text-anchor="start" textLength="224.8" lengthAdjust="spacingAndGlyphs">recovery needs to be observed</text>
<text x="634" y="506" font-size="21.8" fill="#141414" stroke="#141414" stroke-width="0.3" textLength="98" lengthAdjust="spacingAndGlyphs">- <tspan font-weight="bold">Masrur Reaz</tspan></text>
<circle cx="592.9" cy="470" r="26.3" fill="#1b9eb9"/>
<text transform="translate(523.3,523.9) scale(1,0.79)" font-size="97.5" font-weight="900" font-family="Noto Serif CJK SC, Liberation Serif, serif" fill="#fff">“</text>
<circle cx="317.3" cy="464" r="15.3" fill="#1b9eb9"/>
<circle cx="340.7" cy="478" r="15.3" fill="#1b9eb9" stroke="#deedfb" stroke-width="2"/>
<text x="317.3" y="470.4" font-size="16.5" font-weight="bold" fill="#fff" stroke="#fff" stroke-width="0.3" text-anchor="middle">¥</text>
<text x="340.7" y="484.6" font-size="18" font-weight="bold" fill="#fff" text-anchor="middle">$</text>
<path d="M340.7 464 V492" stroke="#fff" stroke-width="2"/>
<path d="M327.3 446.2 Q344 445 349.6 455.5" stroke="#1b9eb9" stroke-width="3.3" fill="none"/><polygon points="344.6,453.8 355.2,453 352.4,462" fill="#1b9eb9"/>
<path d="M329.3 494.6 Q312 495.4 306.6 484.5" stroke="#1b9eb9" stroke-width="3.3" fill="none"/><polygon points="301.4,488 312,486 303.8,478" fill="#1b9eb9"/>
<text x="592" y="173.2" font-size="31.8" font-weight="bold" fill="#e2721c" stroke="#e2721c" stroke-width="0.6" textLength="265.3" lengthAdjust="spacingAndGlyphs" word-spacing="1">OVERALL IMPORT ORDERS</text>
<text x="590.6" y="196" font-size="21.2" font-weight="normal" fill="#141414" stroke="#141414" stroke-width="0.42" text-anchor="start" textLength="147" lengthAdjust="spacingAndGlyphs">(In billion US dollar)</text>
<polygon points="614.5,286 687.7,249.8 762.9,263.8 836.3,246.5 836.3,368.8 614.5,368.8" fill="#f7d30a"/>
<path d="M688.2 250 V369 M763 264 V369" stroke="#fafcff" stroke-width="5.6"/>
<polyline points="612.1,286.8 687.7,249.8 762.9,263.8 838.4,246" stroke="#e2721c" stroke-width="3.2" fill="none"/>
<circle cx="612.1" cy="286.8" r="4.8" fill="#fff" stroke="#e2721c" stroke-width="2.4"/>
<circle cx="687.7" cy="249.8" r="4.8" fill="#fff" stroke="#e2721c" stroke-width="2.4"/>
<circle cx="762.9" cy="263.8" r="4.8" fill="#fff" stroke="#e2721c" stroke-width="2.4"/>
<circle cx="838.4" cy="246" r="4.8" fill="#fff" stroke="#e2721c" stroke-width="2.4"/>
<text x="595.3" y="272.7" font-size="26" font-weight="normal" fill="#141414" stroke="#141414" stroke-width="0.6" text-anchor="start" textLength="34" lengthAdjust="spacingAndGlyphs">4.14</text>
<text x="669.8" y="236.2" font-size="26" font-weight="normal" fill="#141414" stroke="#141414" stroke-width="0.6" text-anchor="start" textLength="38" lengthAdjust="spacingAndGlyphs">6.03</text>
<text x="746.3" y="249.3" font-size="26" font-weight="normal" fill="#141414" stroke="#141414" stroke-width="0.6" text-anchor="start" textLength="36.2" lengthAdjust="spacingAndGlyphs">5.38</text>
<text x="821.5" y="232.5" font-size="26" font-weight="normal" fill="#141414" stroke="#141414" stroke-width="0.6" text-anchor="start" textLength="36.4" lengthAdjust="spacingAndGlyphs">6.22</text>
<text x="585.7" y="394.2" font-size="22.2" font-weight="normal" fill="#141414" stroke="#141414" stroke-width="0.42" text-anchor="start" textLength="51" lengthAdjust="spacingAndGlyphs">JUN ’25</text>
<text x="663.1" y="394.2" font-size="22.2" font-weight="normal" fill="#141414" stroke="#141414" stroke-width="0.42" text-anchor="start" textLength="48" lengthAdjust="spacingAndGlyphs">JUL ’25</text>
<text x="735.7" y="394.2" font-size="22.2" font-weight="normal" fill="#141414" stroke="#141414" stroke-width="0.42" text-anchor="start" textLength="54" lengthAdjust="spacingAndGlyphs">AUG ’25</text>
<text x="813.9" y="394.2" font-size="22.2" font-weight="normal" fill="#141414" stroke="#141414" stroke-width="0.42" text-anchor="start" textLength="50.4" lengthAdjust="spacingAndGlyphs">SEP ’25</text>
</svg></body></html>
